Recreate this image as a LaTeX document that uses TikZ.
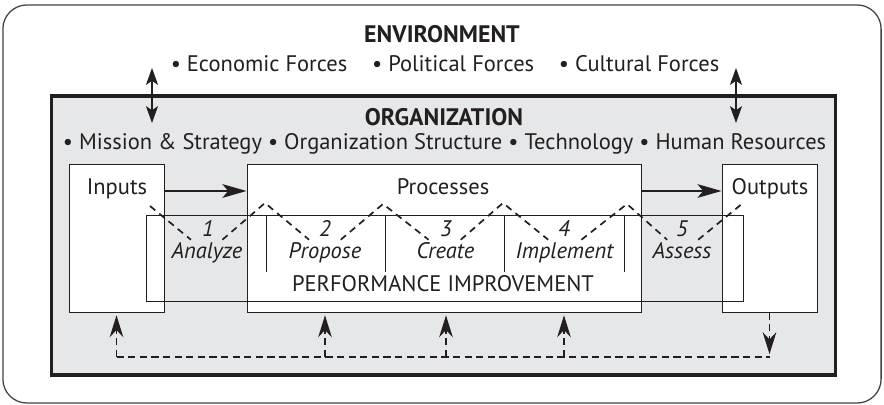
\documentclass[tikz,border=0pt]{standalone}
\usepackage{fontspec}
\setmainfont{PT Sans}
\usetikzlibrary{arrows.meta}

\definecolor{ink}{HTML}{231F20}
\definecolor{orggray}{HTML}{E6E7E8}

\begin{document}
\begin{tikzpicture}[x=0.025cm, y=-0.025cm,
  box/.style={draw=ink, line width=0.6pt, fill=white, inner sep=0pt, minimum height=3.7cm},
  lbl/.style={text=ink, inner sep=0pt, anchor=base, font=\fontsize{16}{19}\selectfont},
  head/.style={lbl, font=\fontsize{17}{20}\selectfont\bfseries},
  digit/.style={lbl, font=\fontsize{16}{19}\selectfont\itshape},
  stepword/.style={text=ink, inner sep=0pt, minimum height=0.65cm, text height=11pt, text depth=3pt, font=\fontsize{16}{19}\selectfont\itshape},
  flow/.style={draw=ink, line width=1.5pt, -{Stealth[length=0.6cm, width=0.34cm, inset=0.14cm]}},
  dbl/.style={draw=ink, line width=1.3pt, {Stealth[length=0.42cm, width=0.3cm, inset=0.1cm]}-{Stealth[length=0.42cm, width=0.3cm, inset=0.1cm]}},
  fback/.style={draw=ink, line width=1.3pt, dash pattern=on 0.18cm off 0.11cm},
  fbarrow/.style={fback, -{Stealth[length=0.55cm, width=0.34cm, inset=0.18cm]}},
  zig/.style={draw=ink, line width=1.2pt, dash pattern=on 0.17cm off 0.13cm}
]
\useasboundingbox (0,0) rectangle (884,405);

% frames
\node[draw=ink!85, line width=0.9pt, rounded corners=0.6cm, minimum width=21.95cm, minimum height=9.95cm] (env) at (442,204) {};
\node[draw=ink, fill=orggray, line width=2.2pt, minimum width=19.575cm, minimum height=6.975cm] (org) at (443.5,235.5) {};
\node[box, minimum width=2.375cm] (inp) at (116.5,238) {};
\node[box, minimum width=9.85cm] (proc) at (444,238) {};
\node[box, minimum width=2.375cm] (outp) at (769.5,238) {};
\node[box, fill=none, minimum width=14.925cm, minimum height=2.15cm] (perf) at (444.5,258) {};
\foreach \x in {266,385,504,624}
  \draw[ink, line width=0.6pt] (\x,215) -- (\x,272);

% texts
\node[head] (envt) at (442,43) {ENVIRONMENT};
\node[lbl] (forces) at (445,72) {\textbullet{} Economic Forces\hspace{1.1em}\textbullet{} Political Forces\hspace{1.1em}\textbullet{} Cultural Forces};
\node[head] (orgt) at (444,126) {ORGANIZATION};
\node[lbl] (parts) at (444.5,150) {\textbullet{} Mission \& Strategy \textbullet{} Organization Structure \textbullet{} Technology \textbullet{} Human Resources};
\node[lbl] (inpt) at (117,195) {Inputs};
\node[lbl] (proct) at (443,195) {Processes};
\node[lbl] (outpt) at (770,195) {Outputs};
\node[lbl] (perft) at (443,292) {PERFORMANCE IMPROVEMENT};

\node[digit] (d1) at (208,237) {1};
\node[digit] (d2) at (325,237) {2};
\node[digit] (d3) at (446,237) {3};
\node[digit] (d4) at (564,237) {4};
\node[digit] (d5) at (682,237) {5};
\node[stepword] (w1) at (207,253) {Analyze};
\node[stepword] (w2) at (325,253) {Propose};
\node[stepword] (w3) at (445.5,253) {Create};
\node[stepword] (w4) at (564.5,253) {Implement};
\node[stepword] (w5) at (682,253) {Assess};

% environment <-> organization
\coordinate (ltop) at (152,68);
\coordinate (lbot) at (152,123);
\coordinate (rtop) at (736,68);
\coordinate (rbot) at (736,123);
\draw[dbl] (ltop) -- (lbot);
\draw[dbl] (rtop) -- (rbot);

% main flow
\coordinate (flowy) at (0,191);
\draw[flow] (inp.east |- flowy) -- (proc.west |- flowy);
\draw[flow] (proc.east |- flowy) -- (outp.west |- flowy);

% improvement steps
\coordinate (z0) at (150,206);
\coordinate (z1) at (265,203);
\coordinate (z2) at (383,204);
\coordinate (z3) at (503,203);
\coordinate (z4) at (627,204);
\coordinate (z5) at (743,203);
\draw[zig] (z0) -- (w1) -- (z1) -- (w2) -- (z2) -- (w3) -- (z3) -- (w4) -- (z4) -- (w5) -- (z5);

% feedback
\coordinate (fb) at (440,357);
\draw[fback] (inp.south |- fb) -- (outp.south |- fb);
\draw[fbarrow, shorten >=2pt] (inp.south |- fb) -- (inp.south);
\foreach \n in {d2,d3,d4}
  \draw[fbarrow, shorten >=2pt] (\n |- fb) -- (\n |- proc.south);
\draw[fbarrow, shorten >=2pt] (outp.south) -- (outp.south |- fb);

\end{tikzpicture}
\end{document}
